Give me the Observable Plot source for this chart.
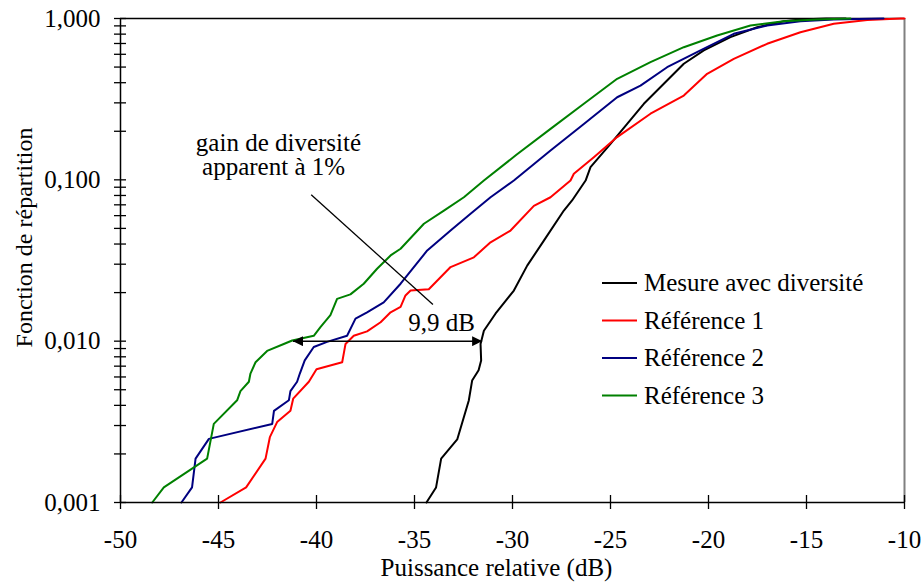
<!DOCTYPE html>
<html>
<head>
<meta charset="utf-8">
<script src="https://cdn.jsdelivr.net/npm/d3@7"></script>
<script src="https://cdn.jsdelivr.net/npm/@observablehq/plot@0.6"></script>
<style>
  html, body { margin: 0; padding: 0; background: #fff; }
  #chart { position: relative; width: 921px; height: 583px; font-family: "Liberation Serif", serif; }
</style>
</head>
<body>
<div id="chart"></div>
<script>
// ---- data (x: relative power in dB, y: CDF) ----
const seriesNames = ["Mesure avec diversité", "Référence 1", "Référence 2", "Référence 3"];
const seriesColors = ["#000000", "#ff0000", "#000080", "#008000"];

const mesure = [
  [-34.39,0.001],[-33.9,0.00124],[-33.64,0.00187],[-32.82,0.00246],[-32.23,0.00429],[-32.06,0.0057],
  [-31.73,0.0066],[-31.6,0.0076],[-31.63,0.0096],[-31.46,0.0116],[-30.87,0.0148],[-29.93,0.0206],
  [-29.25,0.0294],[-28.4,0.042],[-27.38,0.0645],[-26.96,0.0745],[-26.27,0.099],[-26.02,0.12],[-25.0,0.167],
  [-24.15,0.222],[-23.3,0.296],[-22.28,0.394],[-21.26,0.524],[-20.24,0.634],[-18.88,0.766],
  [-17.52,0.883],[-16.16,0.962],[-15.3,0.986],[-14.0,1.0],[-13.0,1.0]
];
const reference1 = [
  [-44.9,0.001],[-43.59,0.00124],[-42.6,0.00187],[-42.38,0.00254],[-42.01,0.00315],[-41.33,0.0037],
  [-41.19,0.0044],[-40.39,0.0056],[-40.0,0.0067],[-38.69,0.0074],[-38.6,0.0085],[-38.52,0.0096],
  [-38.1,0.0108],[-37.42,0.0115],[-36.73,0.0131],[-36.22,0.0151],[-35.71,0.0163],[-35.46,0.0192],
  [-35.2,0.0206],[-34.27,0.021],[-33.16,0.0288],[-31.97,0.0331],[-31.12,0.041],[-30.1,0.0485],
  [-28.91,0.069],[-28.06,0.078],[-27.04,0.099],[-26.87,0.109],[-25.85,0.138],[-24.66,0.184],
  [-22.96,0.257],[-21.26,0.333],[-20.07,0.454],[-18.71,0.562],[-17.01,0.697],[-15.31,0.822],
  [-13.61,0.927],[-11.9,0.98],[-10.2,1.0],[-10.0,1.0]
];
const reference2 = [
  [-46.89,0.001],[-46.35,0.00124],[-46.17,0.00187],[-45.49,0.00248],[-42.26,0.00307],[-42.17,0.0037],
  [-41.41,0.0043],[-41.33,0.0049],[-40.99,0.0056],[-40.85,0.0063],[-40.6,0.0076],[-40.14,0.0092],
  [-39.46,0.0099],[-38.44,0.0108],[-38.01,0.0138],[-37.42,0.0151],[-36.57,0.0174],[-35.71,0.0227],
  [-34.35,0.0365],[-33.16,0.0486],[-32.14,0.0616],[-31.12,0.078],[-29.93,0.099],[-28.06,0.152],
  [-26.36,0.222],[-24.66,0.325],[-23.47,0.384],[-22.11,0.499],[-20.41,0.634],[-18.71,0.804],
  [-17.01,0.905],[-15.31,0.962],[-13.61,0.986],[-11.07,1.0]
];
const reference3 = [
  [-48.38,0.001],[-47.79,0.00124],[-45.58,0.00187],[-45.24,0.00307],[-44.05,0.0043],[-43.88,0.0049],
  [-43.45,0.0056],[-43.37,0.0063],[-43.11,0.0074],[-42.52,0.0087],[-41.67,0.0096],[-41.24,0.0101],
  [-40.14,0.0108],[-39.8,0.0122],[-39.29,0.0145],[-38.95,0.0183],[-38.27,0.0195],[-37.59,0.0227],
  [-36.91,0.0281],[-36.22,0.034],[-35.71,0.0374],[-34.52,0.0534],[-33.5,0.0645],[-32.48,0.078],
  [-31.46,0.099],[-29.8,0.143],[-28.06,0.207],[-26.36,0.296],[-24.66,0.423],[-22.96,0.536],
  [-21.26,0.664],[-19.56,0.785],[-17.86,0.905],[-16.16,0.962],[-14.46,0.986],[-12.76,1.0]
];

const xTicks = [-50,-45,-40,-35,-30,-25,-20,-15,-10];
const yMajorTicks = [0.001, 0.01, 0.1, 1];
const yMinorTicks = [0.002,0.003,0.004,0.005,0.006,0.007,0.008,0.009,
                     0.02,0.03,0.04,0.05,0.06,0.07,0.08,0.09,
                     0.2,0.3,0.4,0.5,0.6,0.7,0.8,0.9];
const xLabel = "Puissance relative (dB)";
const yLabel = "Fonction de répartition";
const annotationLines = ["gain de diversité", "apparent à 1%"];
const gainLabel = "9,9 dB";

// ---- build table ----
const allSeries = [mesure, reference1, reference2, reference3];
const rows = allSeries.flatMap((s, i) => s.map(([x, y]) => ({x, y, name: seriesNames[i]})));

const FONT = "Liberation Serif";

function filledArrow(color) {
  const m = d3.create("svg:marker")
    .attr("viewBox", "-10 -5 10 10")
    .attr("markerWidth", 10)
    .attr("markerHeight", 10)
    .attr("markerUnits", "userSpaceOnUse")
    .attr("orient", "auto-start-reverse")
    .attr("fill", color)
    .attr("stroke", "none");
  m.append("path").attr("d", "M-10,-5L0,0L-10,5Z");
  return m.node();
}

const chart = Plot.plot({
  width: 921,
  height: 583,
  marginLeft: 120,
  marginRight: 17,
  marginTop: 18,
  marginBottom: 81,
  style: {fontSize: "25px", color: "#000", background: "#fff", overflow: "visible"},
  x: {domain: [-50, -10]},
  y: {type: "log", domain: [0.001, 1]},
  color: {domain: seriesNames, range: seriesColors},
  marks: [
    // frame
    Plot.ruleY([1], {stroke: "#000", strokeWidth: 1.5}),
    Plot.ruleX([-10], {stroke: "#808080", strokeWidth: 2}),
    // curves
    Plot.line(rows, {x: "x", y: "y", z: "name", stroke: "name", strokeWidth: 2, strokeLinejoin: "round"}),
    // axes lines
    Plot.ruleY([0.001], {stroke: "#000", strokeWidth: 1.5}),
    Plot.ruleX([-50], {stroke: "#000", strokeWidth: 1.5}),
    // crossing ticks
    Plot.ruleX(xTicks, {x: d => d, y1: 0.001, y2: 0.001, insetTop: -7, insetBottom: -7, stroke: "#000", strokeWidth: 1.3}),
    Plot.ruleY(yMajorTicks.concat(yMinorTicks), {y: d => d, x1: -50, x2: -50, insetLeft: -6, insetRight: -6, stroke: "#000", strokeWidth: 1.3}),
    // tick labels
    Plot.axisX({ticks: xTicks, tickSize: 0, tickPadding: 28, tickFormat: d => String(d), label: null, fontSize: 25}),
    Plot.axisY({ticks: yMajorTicks, tickSize: 0, tickPadding: 20, tickFormat: d => d.toFixed(3).replace(".", ","), label: null, fontSize: 25}),
    // axis titles
    Plot.text([xLabel], {frameAnchor: "bottom", dx: -16, dy: 65, lineAnchor: "middle", fontSize: 25}),
    Plot.text([yLabel], {frameAnchor: "left", dx: -96, dy: -23, rotate: -90, lineAnchor: "middle", textAnchor: "middle", fontSize: 24}),
    // annotation
    Plot.link([0], {x1: -40.27, y1: 0.0808, x2: -34.06, y2: 0.01688, stroke: "#000", strokeWidth: 1.3}),
    Plot.link([0], {x1: -41.2, y1: 0.01, x2: -31.55, y2: 0.01, stroke: "#000", strokeWidth: 1.5,
                    markerStart: filledArrow, markerEnd: filledArrow}),
    Plot.text([annotationLines[0]], {x: -41.94, y: 0.169, lineAnchor: "middle", textAnchor: "middle", fontSize: 25}),
    Plot.text([annotationLines[1]], {x: -42.19, y: 0.120, lineAnchor: "middle", textAnchor: "middle", fontSize: 25}),
    Plot.text([gainLabel], {x: -33.62, y: 0.0129, lineAnchor: "middle", textAnchor: "middle", fontSize: 25})
  ]
});

// legend inside the plot area
const svg = d3.select(chart);
const lg = svg.append("g").attr("font-size", 25).attr("text-anchor", "start");
seriesNames.forEach((name, i) => {
  const cy = 283 + i * 37.5;
  lg.append("line").attr("x1", 602).attr("x2", 637).attr("y1", cy).attr("y2", cy)
    .attr("stroke", seriesColors[i]).attr("stroke-width", 2);
  lg.append("text").attr("x", 644).attr("y", cy).attr("dy", "0.32em").attr("fill", "#000")
    .attr("text-anchor", "start").text(name);
});

// force the serif face on every text element (inline style wins)
svg.attr("font-family", FONT).style("font-family", FONT);
svg.selectAll("g").attr("font-family", null);
svg.selectAll("text").attr("font-family", FONT).style("font-family", FONT).attr("font-variant", null);

document.getElementById("chart").appendChild(chart);
</script>
</body>
</html>
